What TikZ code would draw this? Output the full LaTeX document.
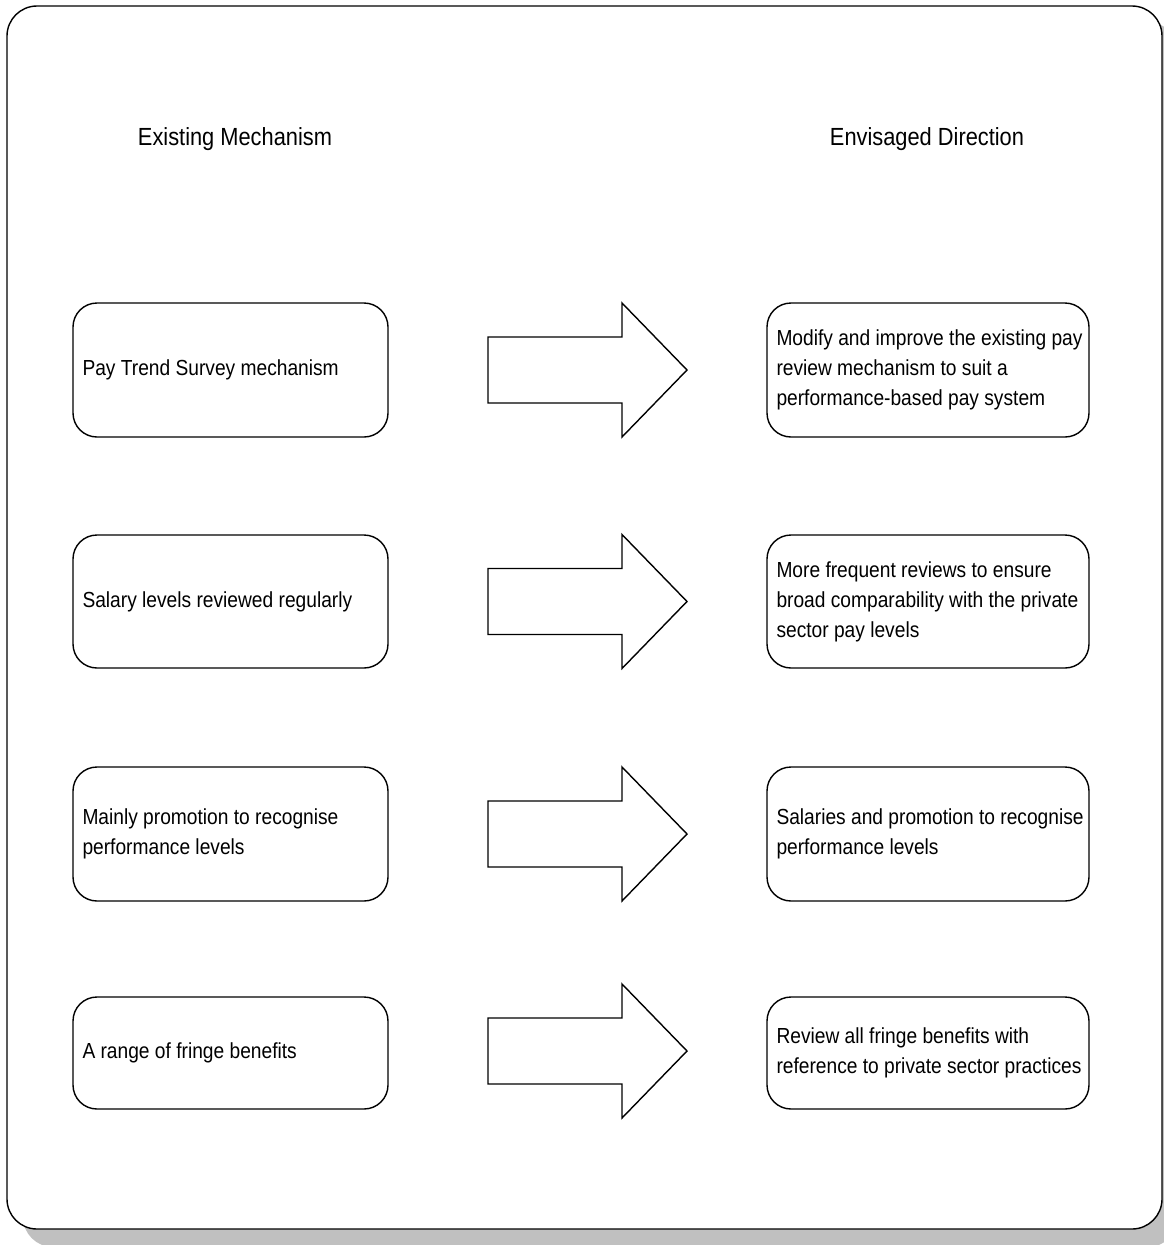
\documentclass[tikz,border=0pt]{standalone}
\usepackage{fontspec}
\setmainfont{Liberation Sans}[FakeStretch=0.88]
\definecolor{shadowgray}{RGB}{192,192,192}
\tikzset{
  outline/.style={line width=1.4pt, draw=black},
  box/.style={outline, fill=white, rounded corners=24pt, inner sep=0pt},
  lbox/.style={box, minimum width=315pt},
  rbox/.style={box, minimum width=322pt},
  txt/.style={anchor=west, align=left, inner sep=0pt, font=\fontsize{21.8}{30}\selectfont},
  head/.style={inner sep=0pt, font=\fontsize{24.8}{28}\selectfont},
  blockarrow/.pic={\draw[outline, line join=miter, fill=white] (0,-33) -- (134,-33) -- (134,-67) -- (199,0) -- (134,67) -- (134,33) -- (0,33) -- cycle;}
}
\begin{document}
\begin{tikzpicture}[x=1pt,y=-1pt]
\useasboundingbox (0,0) rectangle (1164,1245);
\clip (0,0) rectangle (1164,1245);
% shadow and frame
\fill[shadowgray, rounded corners=30pt] (23,22) rectangle (1178,1247);
\draw[outline, fill=white, rounded corners=30pt] (7,6) rectangle (1162,1229);
% headings
\node[head] (hl) at (235,139) {Existing Mechanism};
\node[head] (hr) at (927,139) {Envisaged Direction};
% left boxes
\node[lbox, minimum height=134pt] (l1) at (230.5,370) {};
\node[lbox, minimum height=133pt] (l2) at (230.5,601.5) {};
\node[lbox, minimum height=134pt] (l3) at (230.5,834) {};
\node[lbox, minimum height=112pt] (l4) at (230.5,1053) {};
% right boxes
\node[rbox, minimum height=134pt] (r1) at (928,370) {};
\node[rbox, minimum height=133pt] (r2) at (928,601.5) {};
\node[rbox, minimum height=134pt] (r3) at (928,834) {};
\node[rbox, minimum height=112pt] (r4) at (928,1053) {};
% texts
\node[txt] (l1t) at ([xshift=10pt]l1.west) {Pay Trend Survey mechanism};
\node[txt] (l2t) at ([xshift=10pt]l2.west) {Salary levels reviewed regularly};
\node[txt] (l3t) at ([xshift=10pt]l3.west) {Mainly promotion to recognise\\performance levels};
\node[txt] (l4t) at ([xshift=10pt]l4.west) {A range of fringe benefits};
\node[txt] (r1t) at ([xshift=10pt]r1.west) {Modify and improve the existing pay\\review mechanism to suit a\\performance-based pay system};
\node[txt] (r2t) at ([xshift=10pt]r2.west) {More frequent reviews to ensure\\broad comparability with the private\\sector pay levels};
\node[txt] (r3t) at ([xshift=10pt]r3.west) {Salaries and promotion to recognise\\performance levels};
\node[txt] (r4t) at ([xshift=10pt]r4.west) {Review all fringe benefits with\\reference to private sector practices};
% block arrows
\pic at (488,370) {blockarrow};
\pic at (488,601.5) {blockarrow};
\pic at (488,834) {blockarrow};
\pic at (488,1051) {blockarrow};
\end{tikzpicture}
\end{document}
